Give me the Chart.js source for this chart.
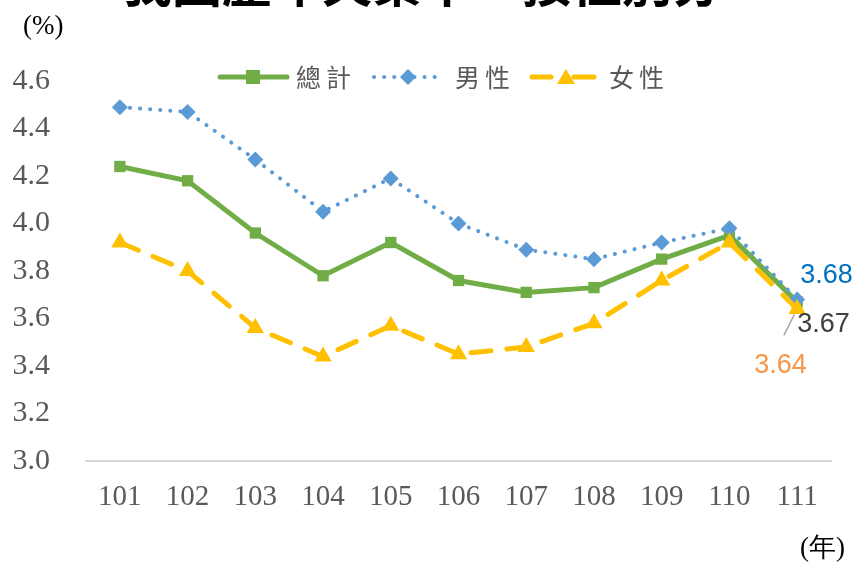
<!DOCTYPE html>
<html>
<head>
<meta charset="utf-8">
<script src="https://cdn.jsdelivr.net/npm/chart.js@4/dist/chart.umd.min.js"></script>
<style>
  html, body { margin: 0; padding: 0; background: #fff; }
  #wrap { position: relative; width: 855px; height: 567px; overflow: hidden; }
</style>
</head>
<body>
<div id="wrap"><canvas id="grafico"></canvas></div>
<script>
// 年度與失業率 (%)
var anos = ['101', '102', '103', '104', '105', '106', '107', '108', '109', '110', '111'];
var total = [4.24, 4.18, 3.96, 3.78, 3.92, 3.76, 3.71, 3.73, 3.85, 3.95, 3.67];
var homens = [4.49, 4.47, 4.27, 4.05, 4.19, 4.00, 3.89, 3.85, 3.92, 3.98, 3.68];
var mulheres = [3.92, 3.80, 3.56, 3.44, 3.57, 3.45, 3.48, 3.58, 3.76, 3.92, 3.64];
var nomes = ['總計', '男性', '女性'];
var titulo = '我國歷年失業率－按性別分';

var serif = '"Liberation Serif", "Times New Roman", serif';
var cjk = '"Noto Sans CJK TC", "Noto Sans", sans-serif';

// título cortado, legenda e rótulos desenhados à mão
var extras = {
    id: 'extras',
    afterDraw: function(chart) {
        var ctx = chart.ctx;
        ctx.save();

        // título (só a parte de baixo aparece)
        ctx.fillStyle = '#000';
        ctx.font = 'bold 50px ' + cjk;
        ctx.textAlign = 'center';
        ctx.textBaseline = 'alphabetic';
        ctx.fillText(titulo, 422, 2);

        // (%) e (年)
        ctx.fillStyle = '#000';
        ctx.font = '27px ' + serif;
        ctx.textAlign = 'left';
        ctx.textBaseline = 'middle';
        ctx.fillText('(%)', 23, 27);
        ctx.fillText('(年)', 800, 549);

        // legenda
        var y = 77;
        ctx.lineCap = 'round';
        // 總計
        ctx.strokeStyle = '#70AD47';
        ctx.lineWidth = 5;
        ctx.setLineDash([]);
        ctx.beginPath(); ctx.moveTo(220, y); ctx.lineTo(287, y); ctx.stroke();
        ctx.fillStyle = '#70AD47';
        ctx.fillRect(246, y - 7, 14, 14);
        // 男性
        ctx.strokeStyle = '#5B9BD5';
        ctx.lineWidth = 4;
        ctx.setLineDash([0.1, 10]);
        ctx.beginPath(); ctx.moveTo(374, y); ctx.lineTo(440, y); ctx.stroke();
        ctx.setLineDash([]);
        ctx.fillStyle = '#5B9BD5';
        ctx.beginPath();
        ctx.moveTo(408, y - 8); ctx.lineTo(416, y); ctx.lineTo(408, y + 8); ctx.lineTo(400, y);
        ctx.closePath(); ctx.fill();
        // 女性
        ctx.strokeStyle = '#FFC000';
        ctx.lineWidth = 5;
        ctx.beginPath(); ctx.moveTo(532, y); ctx.lineTo(551, y); ctx.stroke();
        ctx.beginPath(); ctx.moveTo(574, y); ctx.lineTo(594, y); ctx.stroke();
        ctx.fillStyle = '#FFC000';
        ctx.beginPath();
        ctx.moveTo(566, y - 8); ctx.lineTo(575, y + 7); ctx.lineTo(557, y + 7);
        ctx.closePath(); ctx.fill();

        ctx.fillStyle = '#595959';
        ctx.font = '25px ' + cjk;
        ctx.textAlign = 'left';
        ctx.letterSpacing = '5px';
        ctx.fillText(nomes[0], 296, y);
        ctx.fillText(nomes[1], 455, y);
        ctx.fillText(nomes[2], 609, y);
        ctx.letterSpacing = '0px';

        // rótulos do último ponto
        var last = anos.length - 1;
        var pT = chart.getDatasetMeta(0).data[last];
        var pH = chart.getDatasetMeta(1).data[last];
        var pM = chart.getDatasetMeta(2).data[last];
        ctx.font = '27px "Liberation Sans", Arial, sans-serif';
        ctx.textAlign = 'left';
        ctx.fillStyle = '#0070C0';
        ctx.fillText(homens[last].toFixed(2), pH.x + 3, pH.y - 24);
        ctx.fillStyle = '#404040';
        ctx.fillText(total[last].toFixed(2), pT.x, pT.y + 23);
        ctx.fillStyle = '#F79646';
        ctx.fillText(mulheres[last].toFixed(2), pM.x - 43, pM.y + 57);
        // linha guia
        ctx.strokeStyle = '#A6A6A6';
        ctx.lineWidth = 1.5;
        ctx.beginPath();
        ctx.moveTo(pT.x - 13, pT.y + 33);
        ctx.lineTo(pT.x - 3, pT.y + 13);
        ctx.stroke();

        ctx.restore();
    }
};

var config = {
    type: 'line',
    data: {
        labels: anos,
        datasets: [{
            label: nomes[0],
            data: total,
            borderColor: '#70AD47',
            backgroundColor: '#70AD47',
            borderWidth: 5,
            pointStyle: 'rect',
            pointRadius: 8,
            pointBorderWidth: 0,
            order: 3
        }, {
            label: nomes[1],
            data: homens,
            borderColor: '#5B9BD5',
            backgroundColor: '#5B9BD5',
            borderWidth: 4,
            borderDash: [0.1, 10],
            borderCapStyle: 'round',
            pointStyle: 'rectRot',
            pointRadius: 8,
            pointBorderWidth: 0,
            order: 2
        }, {
            label: nomes[2],
            data: mulheres,
            borderColor: '#FFC000',
            backgroundColor: '#FFC000',
            borderWidth: 5,
            borderDash: [20, 16],
            borderCapStyle: 'round',
            pointStyle: 'triangle',
            pointRadius: 10,
            pointBorderWidth: 0,
            order: 1
        }]
    },
    options: {
        responsive: true,
        maintainAspectRatio: false,
        animation: false,
        layout: { padding: { top: 81, right: 24, left: 0, bottom: 0 } },
        plugins: {
            legend: { display: false },
            title: { display: false },
            tooltip: { enabled: false }
        },
        scales: {
            x: {
                offset: true,
                grid: { display: false, drawTicks: false },
                border: { color: '#D9D9D9', width: 2 },
                ticks: {
                    color: '#595959',
                    font: { family: serif, size: 29 },
                    padding: 19
                },
                afterFit: function(s) { s.height = 106; }
            },
            y: {
                min: 3.0,
                max: 4.6,
                grid: { display: false, drawTicks: false },
                border: { display: false },
                ticks: {
                    stepSize: 0.2,
                    color: '#595959',
                    font: { family: serif, size: 30 },
                    padding: 36,
                    callback: function(v) { return v.toFixed(1); }
                },
                afterFit: function(s) { s.width = 86; }
            }
        }
    },
    plugins: [extras]
};

var ctx = document.getElementById('grafico').getContext('2d');
new Chart(ctx, config);
</script>
</body>
</html>
